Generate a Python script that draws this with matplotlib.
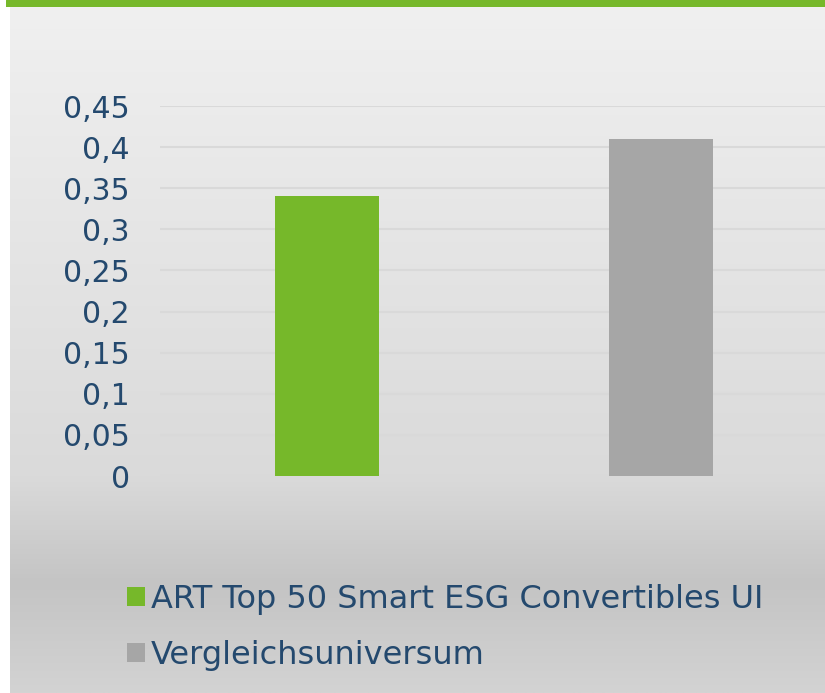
import matplotlib as mpl
import numpy as np

mpl.use("Agg")
import matplotlib.pyplot as plt  # noqa: E402
from matplotlib.patches import Patch  # noqa: E402

# data
categories = ["ART Top 50 Smart ESG Convertibles UI", "Vergleichsuniversum"]
values = [0.34, 0.41]
bar_colors = ["#76b82a", "#a6a6a6"]
yticks = [0, 0.05, 0.10, 0.15, 0.20, 0.25, 0.30, 0.35, 0.40, 0.45]
ytick_labels = ["0", "0,05", "0,1", "0,15", "0,2", "0,25", "0,3", "0,35", "0,4", "0,45"]

INK = "#24496e"
W, H = 825, 693

plt.rcParams.update({"font.family": "DejaVu Sans"})
fig = plt.figure(figsize=(W / 100, H / 100), dpi=100)
fig.patch.set_facecolor("white")

# background gradient (panel) + green top band
bg = fig.add_axes([10 / W, 0, 1 - 10 / W, (H - 7) / H], zorder=-10)
ys = np.array([0, 470, 577, 686]) / 686.0
cs = np.array([240, 218, 196, 211]) / 255.0
yy = np.linspace(0, 1, 400)
grad = np.interp(yy, ys, cs)
img = np.repeat(grad[:, None], 2, axis=1)
bg.imshow(np.dstack([img, img, img]), aspect="auto", extent=[0, 1, 1, 0])
bg.set_axis_off()
top = fig.add_axes([6 / W, (H - 7) / H, 1 - 6 / W, 7 / H], zorder=-10)
top.set_axis_off()
top.add_patch(plt.Rectangle((0, 0), 1, 1, color="#76b82a", transform=top.transAxes))

# main chart
ax = fig.add_axes([160 / W, (H - 476) / H, (W - 160) / W, 370 / H])
ax.patch.set_alpha(0)
x = np.arange(len(categories))
ax.bar(x, values, width=0.31, color=bar_colors, zorder=3)
ax.set_xlim(-0.5, 1.49)
ax.set_ylim(0, 0.45)
ax.set_yticks(yticks)
ax.set_yticklabels(ytick_labels)
ax.set_xticks([])
ax.tick_params(axis="y", length=0, pad=21.6, labelsize=21.5, labelcolor=INK)
ax.grid(True, axis="y", color="#d9d9d9", lw=1.5, zorder=0)
for s in ax.spines.values():
    s.set_visible(False)

handles = [Patch(facecolor=c, edgecolor="none") for c in bar_colors]
fig.legend(handles, categories, loc="upper left",
           bbox_to_anchor=(114 / W, (H - 571) / H),
           frameon=False, fontsize=23, labelcolor=INK,
           handlelength=0.56, handleheight=0.56, handletextpad=0.2,
           labelspacing=0.78, borderaxespad=0)

fig.savefig("out.png", dpi=100)
